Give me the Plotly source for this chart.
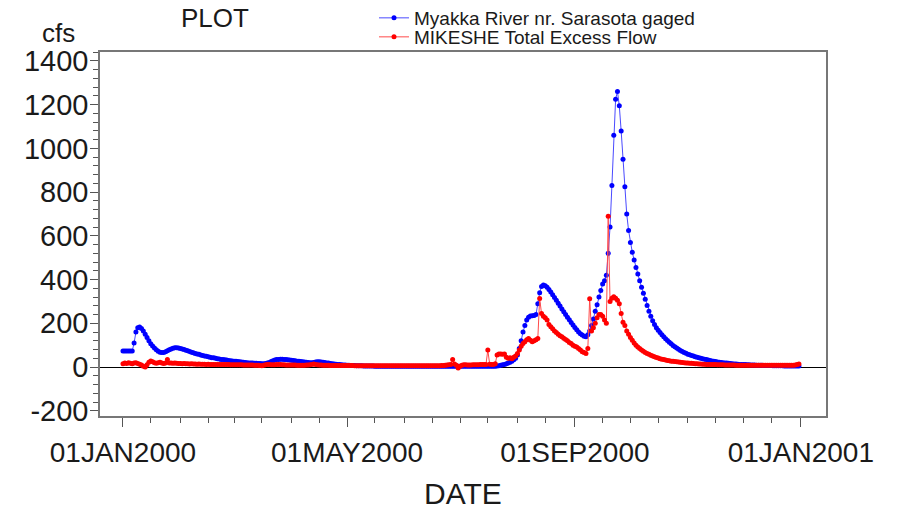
import pandas as pd
import plotly.graph_objects as go

# ---------------- data (daily values, 2000) ----------------
start_date = "2000-01-01"
n_days = 366

blue_jan = [73, 73, 73, 73, 73, 73, 110, 160, 180, 183, 176, 165, 150, 135, 120, 107, 96, 87, 79, 72,
            68, 66, 67, 70, 74, 79, 83, 86, 88, 88, 87]
blue_feb = [85, 83, 80, 77, 74, 71, 68, 65, 62, 60, 58, 55, 53, 51, 49, 47, 45, 43, 42, 40,
            38, 37, 35, 34, 33, 32, 30, 29, 28]
blue_mar = [27, 26, 25, 24, 23, 22, 21, 20, 19, 19, 18, 17, 17, 16, 16, 15, 15, 16, 18, 21,
            25, 29, 32, 34, 35, 36, 36, 35, 34, 33, 32]
blue_apr = [31, 30, 29, 27, 26, 25, 24, 23, 22, 21, 20, 20, 21, 23, 24, 24, 23, 22, 21, 19,
            18, 16, 15, 14, 13, 12, 11, 10, 9, 9]
blue_may = [8, 8, 7, 7, 7, 6, 6, 6, 6, 5, 5, 5, 5, 5, 5, 4, 4, 4, 4, 4,
            4, 4, 4, 4, 4, 3, 3, 3, 3, 3, 3]
blue_jun = [3, 3, 3, 3, 3, 3, 3, 3, 3, 3, 3, 3, 3, 3, 3, 3, 3, 3, 3, 3,
            3, 3, 3, 3, 3, 3, 3, 3, 3, 3]
blue_jul = [3, 3, 3, 3, 3, 3, 3, 3, 3, 3, 3, 3, 3, 3, 3, 3, 3, 3, 3, 4,
            5, 6, 8, 10, 12, 15, 18, 22, 27, 33, 40]
blue_aug = [55, 85, 120, 160, 190, 215, 228, 233, 235, 236, 240, 290, 340, 368, 375, 372, 365, 355, 343, 331,
            318, 305, 292, 279, 266, 253, 240, 228, 216, 204, 192]
blue_sep = [181, 170, 160, 152, 146, 141, 138, 148, 165, 190, 220, 255, 285, 320, 350, 380, 395, 420, 520, 640,
            830, 1060, 1225, 1260, 1195, 1080, 950, 825, 700, 625]
blue_oct = [570, 525, 490, 455, 425, 395, 365, 338, 310, 282, 255, 232, 212, 195, 180, 168, 158, 148, 138, 129,
            121, 113, 106, 99, 93, 87, 81, 76, 71, 67, 63]
blue_nov = [59, 56, 53, 50, 47, 45, 42, 40, 38, 36, 34, 32, 30, 28, 26, 25, 23, 22, 21, 20,
            19, 18, 17, 16, 15, 14, 14, 13, 12, 12]
blue_dec = [11, 11, 10, 10, 9, 9, 9, 8, 8, 8, 8, 7, 7, 7, 7, 7, 6, 6, 6, 6,
            6, 6, 5, 5, 5, 5, 5, 5, 5, 5, 5]

red_jan = [15, 18, 16, 20, 17, 15, 18, 20, 16, 13, 9, 4, 0, 10, 22, 28, 24, 20, 17, 20,
           22, 18, 16, 19, 35, 19, 18, 17, 18, 17, 16]
red_feb = [16, 15, 16, 15, 15, 14, 15, 14, 14, 13, 14, 13, 13, 13, 12, 13, 12, 12, 12, 12,
           11, 12, 11, 11, 11, 11, 11, 10, 10]
red_mar = [10, 10, 10, 10, 10, 9, 9, 9, 9, 9, 9, 8, 8, 8, 7, 6, 8, 10, 12, 11,
           10, 10, 10, 11, 12, 11, 10, 10, 9, 9, 9]
red_apr = [9, 9, 9, 8, 8, 8, 8, 8, 9, 9, 10, 12, 14, 12, 10, 9, 9, 8, 8, 8,
           8, 7, 7, 7, 7, 7, 7, 7, 7, 7]
red_may = [7, 7, 7, 7, 6, 6, 6, 6, 6, 6, 6, 6, 6, 6, 6, 6, 6, 6, 6, 6,
           6, 6, 6, 6, 6, 6, 6, 6, 6, 6, 6]
red_jun = [6, 6, 6, 6, 6, 6, 6, 6, 6, 6, 6, 6, 6, 6, 6, 6, 6, 6, 6, 6,
           7, 7, 8, 9, 10, 12, 35, 14, 8, -5]
red_jul = [3, 8, 10, 10, 9, 9, 9, 10, 10, 10, 10, 11, 11, 11, 12, 78, 13, 12, 12, 15,
           55, 60, 60, 58, 60, 45, 40, 42, 38, 45, 50]
red_aug = [62, 78, 95, 108, 116, 125, 131, 123, 116, 120, 125, 131, 314, 245, 232, 225, 215, 195, 184, 175,
           165, 158, 150, 143, 138, 132, 126, 120, 112, 108, 100]
red_sep = [95, 92, 85, 78, 70, 66, 62, 85, 312, 165, 180, 200, 225, 240, 240, 232, 215, 200, 690, 300,
           315, 322, 315, 305, 290, 245, 205, 190, 165, 150]
red_oct = [135, 122, 110, 100, 92, 85, 78, 72, 67, 62, 58, 54, 50, 47, 44, 41, 38, 36, 34, 32,
           30, 29, 27, 26, 25, 24, 23, 22, 21, 20, 19]
red_nov = [18, 17, 17, 16, 15, 15, 14, 14, 13, 13, 12, 12, 12, 11, 11, 11, 10, 10, 10, 10,
           9, 9, 9, 9, 9, 9, 8, 8, 8, 8]
red_dec = [8, 8, 8, 8, 8, 8, 8, 8, 8, 8, 8, 8, 8, 8, 8, 8, 8, 8, 8, 8,
           8, 8, 8, 8, 8, 8, 8, 8, 9, 11, 14]

series_blue_name = "Myakka River nr. Sarasota gaged"
series_red_name = "MIKESHE Total Excess Flow"

major_tick_dates = ["2000-01-01", "2000-05-01", "2000-09-01", "2001-01-01"]
major_tick_labels = ["01JAN2000", "01MAY2000", "01SEP2000", "01JAN2001"]
y_tick_vals = [-200, 0, 200, 400, 600, 800, 1000, 1200, 1400]
y_tick_labels = ["-200", "0", "200", "400", "600", "800", "1000", "1200", "1400"]

# ---------------- build ----------------
dates = pd.date_range(start_date, periods=n_days, freq="D")
blue = (blue_jan + blue_feb + blue_mar + blue_apr + blue_may + blue_jun +
        blue_jul + blue_aug + blue_sep + blue_oct + blue_nov + blue_dec)
red = (red_jan + red_feb + red_mar + red_apr + red_may + red_jun +
       red_jul + red_aug + red_sep + red_oct + red_nov + red_dec)

minor_dates = []
for m in pd.date_range("2000-01-01", "2001-01-01", freq="MS"):
    minor_dates.append(m)
    minor_dates.append(m + pd.Timedelta(days=15))

FONT = "Liberation Sans, Arial, sans-serif"
TXT = "#1a1a1a"

# figure fills the window exactly (page margin removed below)
W, H = 899, 510
L, R, T, B = 100, 826, 52, 416


def px_x(p):
    return (p - L) / (R - L)


def px_y(p):
    return (B - p) / (B - T)


fig = go.Figure()
fig.add_trace(go.Scatter(
    x=dates, y=blue, name=series_blue_name, mode="lines+markers",
    line=dict(color="#4a4aff", width=1),
    marker=dict(color="#0000ff", size=5, line=dict(width=0)),
    legend="legend",
))
fig.add_trace(go.Scatter(
    x=dates, y=red, name=series_red_name, mode="lines+markers",
    line=dict(color="#ff4a4a", width=1),
    marker=dict(color="#ff0000", size=5, line=dict(width=0)),
    legend="legend2",
))

legend_common = dict(xanchor="left", yanchor="middle", bgcolor="rgba(0,0,0,0)",
                     font=dict(size=19, family=FONT, color=TXT), itemwidth=30)

fig.update_layout(
    width=W, height=H, autosize=False,
    margin=dict(l=L, r=W - R, t=T, b=H - B, autoexpand=False),
    paper_bgcolor="white", plot_bgcolor="white",
    font=dict(family=FONT, color=TXT),
    title=dict(text="PLOT", x=215 / W, xanchor="center",
               y=1 - 18 / H, yanchor="middle",
               font=dict(size=26, family=FONT, color=TXT)),
    legend=dict(x=px_x(374), y=px_y(18), **legend_common),
    legend2=dict(x=px_x(374), y=px_y(37), **legend_common),
    showlegend=True,
    annotations=[dict(text="cfs", xref="paper", yref="paper",
                      x=px_x(58), y=px_y(33),
                      xanchor="center", yanchor="middle", showarrow=False,
                      font=dict(size=26, family=FONT, color=TXT))],
)

fig.update_xaxes(
    type="date", automargin=False,
    range=[pd.Timestamp("2000-01-01") - pd.Timedelta(days=12.4),
           pd.Timestamp("2000-01-01") + pd.Timedelta(days=379.6)],
    tickmode="array", tickvals=pd.to_datetime(major_tick_dates), ticktext=major_tick_labels,
    ticks="outside", ticklen=9, tickwidth=1, tickcolor="#555",
    tickfont=dict(size=28, family=FONT, color=TXT),
    ticklabelstandoff=2,
    minor=dict(tickmode="array", tickvals=minor_dates, ticks="outside", ticklen=5,
               tickwidth=1, tickcolor="#555", showgrid=False),
    showgrid=False, zeroline=False,
    showline=True, mirror=True, linecolor="#777", linewidth=1.5,
    title=dict(text="DATE", font=dict(size=30, family=FONT, color=TXT), standoff=20),
)
fig.update_yaxes(
    automargin=False,
    range=[-224, 1441],
    tickmode="array", tickvals=y_tick_vals, ticktext=y_tick_labels,
    ticks="outside", ticklen=8, tickwidth=1, tickcolor="#555",
    tickfont=dict(size=29, family=FONT, color=TXT),
    ticklabelstandoff=-4,
    minor=dict(dtick=40, tick0=0, ticks="outside", ticklen=5, tickwidth=1,
               tickcolor="#555", showgrid=False),
    showgrid=False,
    zeroline=True, zerolinecolor="#000", zerolinewidth=1,
    showline=True, mirror=True, linecolor="#777", linewidth=1.5,
)

fig.write_html(
    "out.html",
    config={"displayModeBar": False},
    post_script="document.body.style.margin='0';document.body.style.overflow='hidden';",
)
